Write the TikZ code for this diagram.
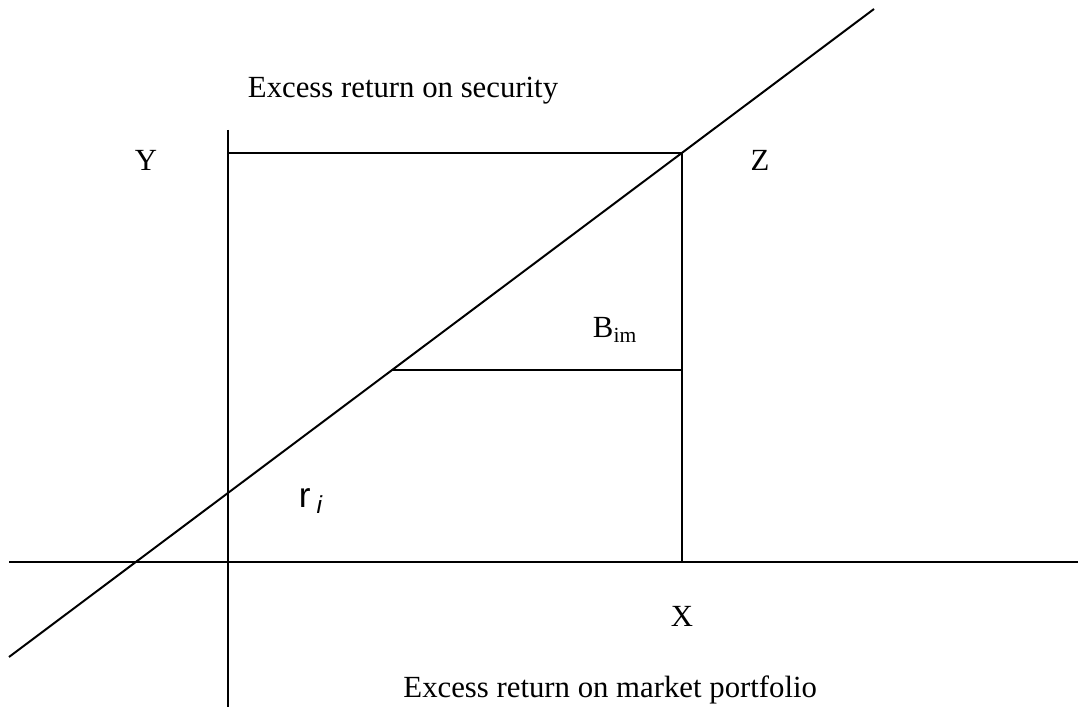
\documentclass[tikz,border=0pt]{standalone}
\usepackage{fontspec}
\setmainfont{Liberation Serif}
\newfontfamily\arialfont{Liberation Sans}
\usetikzlibrary{positioning}

\begin{document}
\begin{tikzpicture}[
    x=0.455pt, y=-0.455pt, line width=0.9pt,
    lbl/.style={inner sep=0pt, font=\fontsize{14}{16}\selectfont}]
  \useasboundingbox (0,0) rectangle (1078,707);
  % axes
  \coordinate (hl) at (9,562);
  \coordinate (hr) at (1078,562);
  \coordinate (vt) at (228,130);
  \coordinate (vb) at (228,707);
  % characteristic line
  \coordinate (cl) at (9,657);
  \coordinate (cr) at (874,9);
  % box corners
  \coordinate (yc) at (228,153);
  \coordinate (zc) at (682,153);
  \coordinate (xc) at (682,562);
  \coordinate (ml) at (392,370);
  \coordinate (mr) at (682,370);
  \draw (hl) -- (hr);
  \draw (vt) -- (vb);
  \draw (cl) -- (cr);
  \draw (yc) -- (zc) -- (xc);
  \draw (ml) -- (mr);
  % labels
  \node[lbl, anchor=base west] (ysec) at (247,98) {Excess return on security};
  \node[lbl, anchor=base east] (xmkt) at (818,697) {Excess return on market portfolio};
  \node[lbl, anchor=base] (ylab) at (146,171) {Y};
  \node[lbl, anchor=base] (zlab) at (760,171) {Z};
  \node[lbl, anchor=base] (xlab) at (682,627) {X};
  \node[lbl, anchor=base west] (beta) at (592,338) {B\textsubscript{im}};
  \node[lbl, anchor=base west, font=\fontsize{16}{18}\selectfont\arialfont] (ri) at (298,508) {r\,\textsubscript{\textit{i}}};
\end{tikzpicture}
\end{document}
